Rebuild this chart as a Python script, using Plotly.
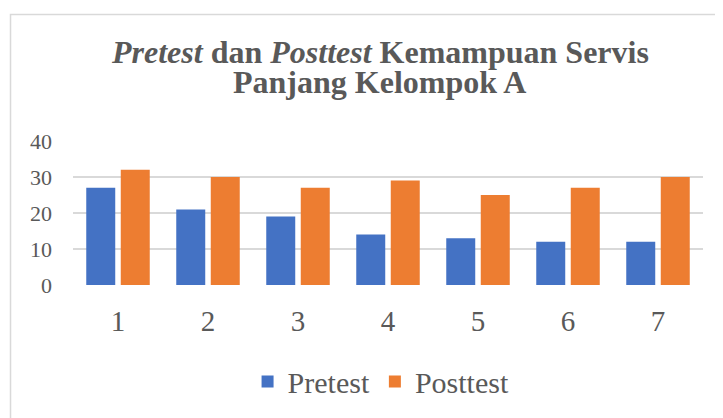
import plotly.graph_objects as go

categories = ["1", "2", "3", "4", "5", "6", "7"]
pretest = [27, 21, 19, 14, 13, 12, 12]
posttest = [32, 30, 27, 29, 25, 27, 30]
y_ticks = [0, 10, 20, 30, 40]

FONT = "Liberation Serif, Times New Roman, serif"
TXT = "#595959"

fig = go.Figure()
fig.add_trace(go.Bar(x=categories, y=pretest, name="Pretest",
                     marker=dict(color="#4472c4", line=dict(width=0))))
fig.add_trace(go.Bar(x=categories, y=posttest, name="Posttest",
                     marker=dict(color="#ed7d31", line=dict(width=0))))

fig.update_layout(
    width=723, height=418,
    margin=dict(l=65, r=28, t=133, b=141),
    paper_bgcolor="white", plot_bgcolor="white",
    barmode="group", bargap=0.233, bargroupgap=0.16,
    font=dict(family=FONT, color=TXT),
    showlegend=True,
    legend=dict(orientation="h", x=0.489, y=-0.67, xanchor="center", yanchor="middle",
                font=dict(size=30, family=FONT, color=TXT), itemwidth=30,
                bgcolor="rgba(0,0,0,0)"),
    annotations=[
        dict(text="<b><i>Pretest</i> dan <i>Posttest</i> Kemampuan Servis</b>",
             xref="paper", yref="paper", x=0.487, y=1.62, xanchor="center", yanchor="middle",
             showarrow=False, font=dict(size=32, family=FONT, color=TXT)),
        dict(text="<b>Panjang Kelompok A</b>",
             xref="paper", yref="paper", x=0.487, y=1.41, xanchor="center", yanchor="middle",
             showarrow=False, font=dict(size=32, family=FONT, color=TXT)),
    ],
    shapes=[
        dict(type="rect", xref="paper", yref="paper", x0=-0.0992, x1=2.0, y0=-2.0, y1=1.878,
             line=dict(color="#d9d9d9", width=1.5), fillcolor="rgba(0,0,0,0)", layer="below"),
    ],
)
fig.update_xaxes(type="category", showline=False, showgrid=False, zeroline=False,
                 ticks="", tickfont=dict(size=29, family=FONT, color=TXT), ticklabelstandoff=16)
fig.update_yaxes(range=[0, 40], tickvals=y_ticks, showline=False, zeroline=False,
                 showgrid=True, gridcolor="#d9d9d9", gridwidth=1.5,
                 ticks="", tickfont=dict(size=22, family=FONT, color=TXT), ticklabelstandoff=20)

fig.write_html("out.html")
